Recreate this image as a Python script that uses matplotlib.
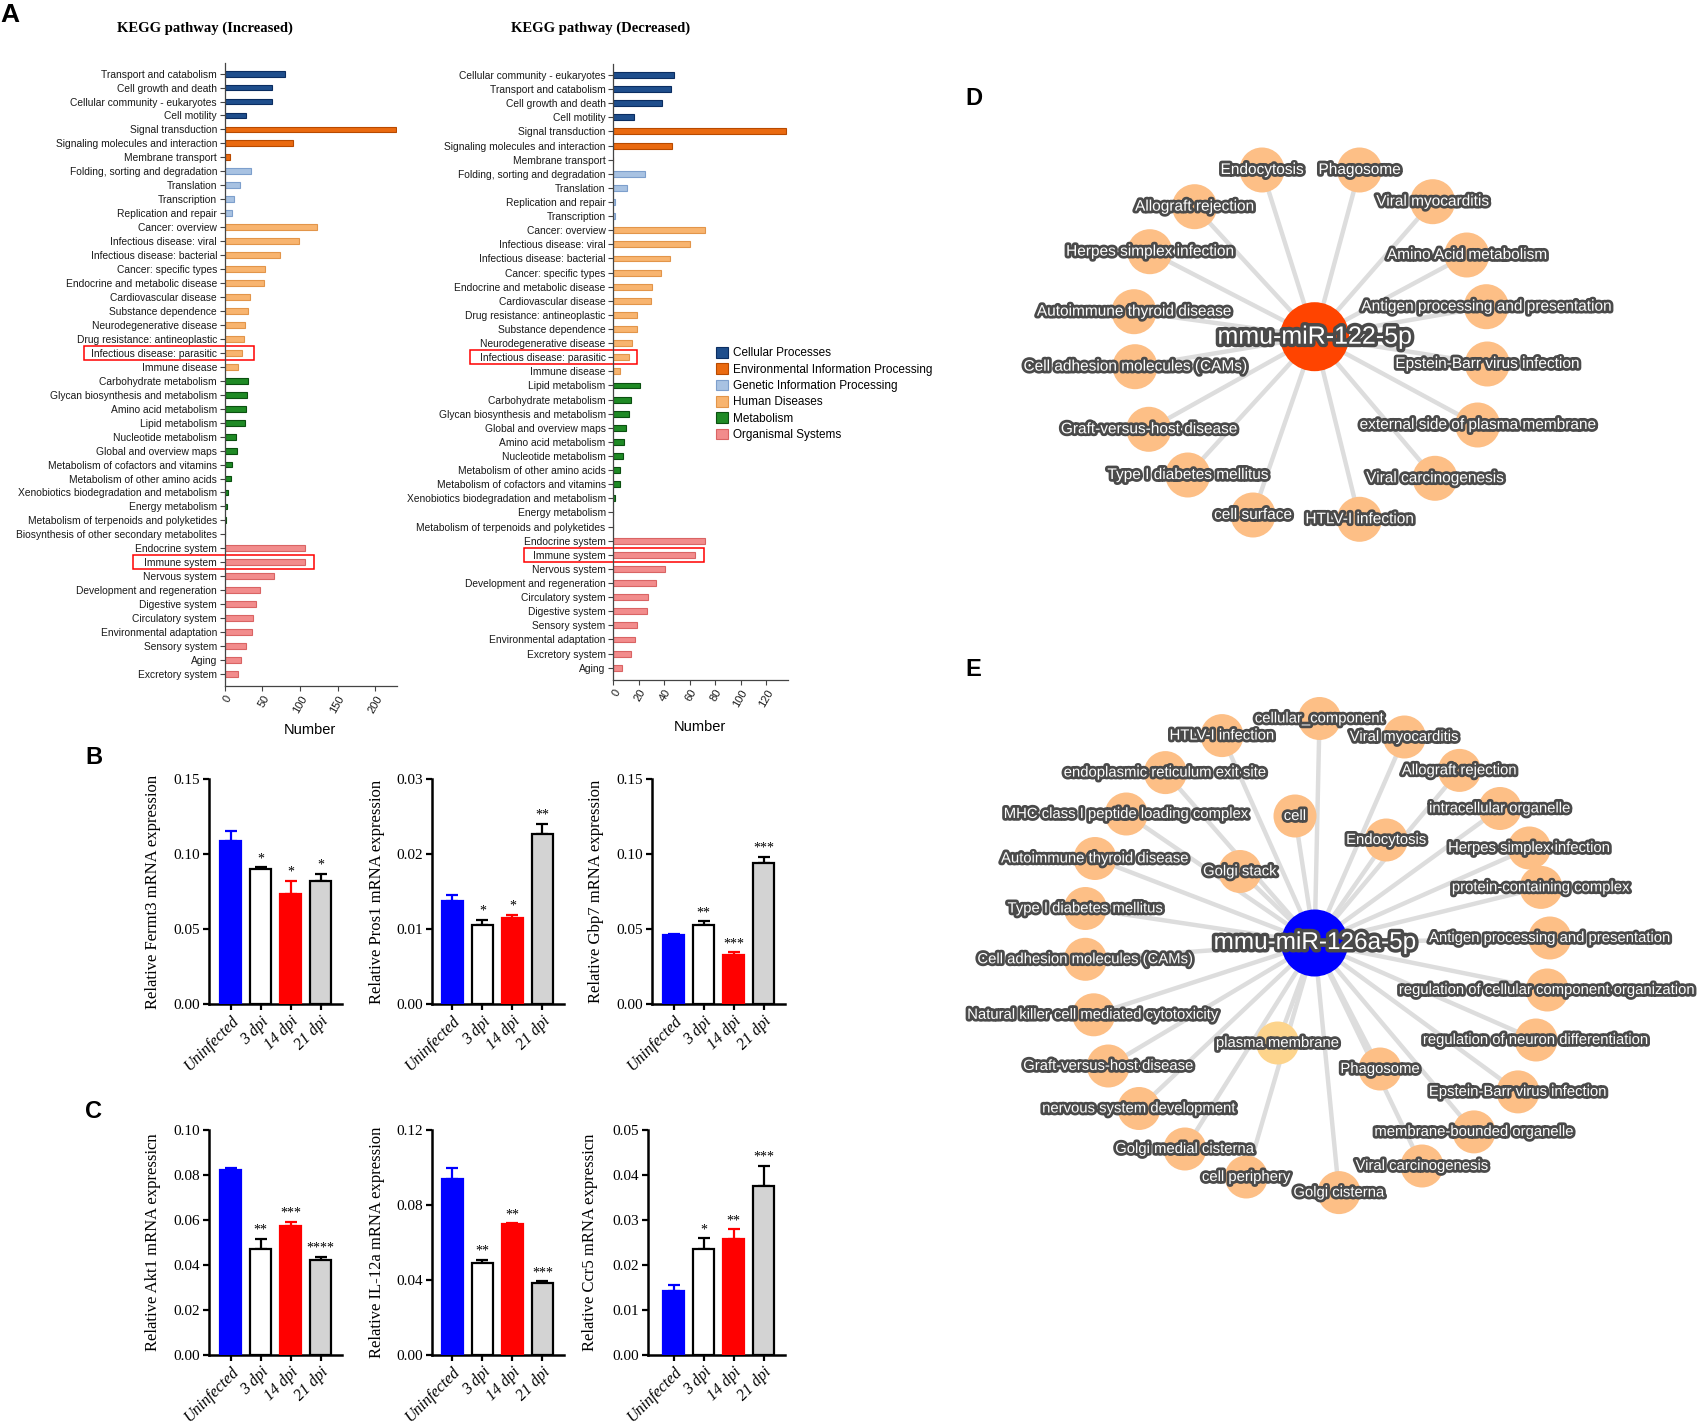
import matplotlib
matplotlib.use("Agg")
import matplotlib.pyplot as plt
import matplotlib.patheffects as pe
import matplotlib.transforms as mtransforms
from matplotlib.patches import Rectangle, Circle, Patch

# ---------------------------------------------------------------- data
inc_labels = [
    "Transport and catabolism", "Cell growth and death", "Cellular community - eukaryotes", "Cell motility",
    "Signal transduction", "Signaling molecules and interaction", "Membrane transport",
    "Folding, sorting and degradation", "Translation", "Transcription", "Replication and repair",
    "Cancer: overview", "Infectious disease: viral", "Infectious disease: bacterial", "Cancer: specific types",
    "Endocrine and metabolic disease", "Cardiovascular disease", "Substance dependence",
    "Neurodegenerative disease", "Drug resistance: antineoplastic", "Infectious disease: parasitic",
    "Immune disease",
    "Carbohydrate metabolism", "Glycan biosynthesis and metabolism", "Amino acid metabolism",
    "Lipid metabolism", "Nucleotide metabolism", "Global and overview maps",
    "Metabolism of cofactors and vitamins", "Metabolism of other amino acids",
    "Xenobiotics biodegradation and metabolism", "Energy metabolism",
    "Metabolism of terpenoids and polyketides", "Biosynthesis of other secondary metabolites",
    "Endocrine system", "Immune system", "Nervous system", "Development and regeneration",
    "Digestive system", "Circulatory system", "Environmental adaptation", "Sensory system",
    "Aging", "Excretory system"]
inc_values = [80, 63, 63, 28, 227, 91, 7, 35, 20, 12, 10,
              122, 98, 73, 54, 52, 33, 31, 27, 25, 23, 18,
              31, 29, 28, 27, 15, 16, 10, 9, 4.5, 3, 2, 0,
              106, 106, 66, 47, 41, 38, 36, 28, 22, 18]
inc_group_sizes = [4, 3, 4, 11, 12, 10]

dec_labels = [
    "Cellular community - eukaryotes", "Transport and catabolism", "Cell growth and death", "Cell motility",
    "Signal transduction", "Signaling molecules and interaction", "Membrane transport",
    "Folding, sorting and degradation", "Translation", "Replication and repair", "Transcription",
    "Cancer: overview", "Infectious disease: viral", "Infectious disease: bacterial", "Cancer: specific types",
    "Endocrine and metabolic disease", "Cardiovascular disease", "Drug resistance: antineoplastic",
    "Substance dependence", "Neurodegenerative disease", "Infectious disease: parasitic", "Immune disease",
    "Lipid metabolism", "Carbohydrate metabolism", "Glycan biosynthesis and metabolism",
    "Global and overview maps", "Amino acid metabolism", "Nucleotide metabolism",
    "Metabolism of other amino acids", "Metabolism of cofactors and vitamins",
    "Xenobiotics biodegradation and metabolism", "Energy metabolism",
    "Metabolism of terpenoids and polyketides",
    "Endocrine system", "Immune system", "Nervous system", "Development and regeneration",
    "Circulatory system", "Digestive system", "Sensory system", "Environmental adaptation",
    "Excretory system", "Aging"]
dec_values = [48, 45, 38, 16, 136, 46.5, 0, 24.6, 10.5, 1.5, 1.5,
              72, 60, 44.4, 37.6, 30.6, 29.5, 18.8, 18.8, 14.6, 12.5, 5,
              20.6, 13.6, 12.5, 9.7, 8.6, 7.8, 5, 5, 1.6, 0, 0,
              72, 64, 40.5, 33.5, 27.5, 26.7, 18.8, 16.7, 13.6, 6.5]
dec_group_sizes = [4, 3, 4, 11, 11, 10]

kegg_classes = ["Cellular Processes", "Environmental Information Processing",
                "Genetic Information Processing", "Human Diseases", "Metabolism", "Organismal Systems"]
kegg_face = ["#1f4e8c", "#ea6a10", "#a8c2e2", "#f8b46f", "#1f8a25", "#f28c8c"]
kegg_edge = ["#0b2d61", "#b84a00", "#7d9fcc", "#e2954a", "#0b4f10", "#d96464"]

groups = ["Uninfected", "3 dpi", "14 dpi", "21 dpi"]
bar_face = ["#0000ff", "white", "#ff0000", "#d3d3d3"]
bar_edge = ["#0000ff", "black", "#ff0000", "black"]

fermt3_mean = [0.1089, 0.0900, 0.0736, 0.0824]
fermt3_err = [0.0067, 0.0013, 0.0087, 0.0045]
fermt3_sig = ["", "*", "*", "*"]
pros1_mean = [0.0138, 0.0106, 0.0115, 0.0227]
pros1_err = [0.0008, 0.0007, 0.0004, 0.0014]
pros1_sig = ["", "*", "*", "**"]
gbp7_mean = [0.0464, 0.0531, 0.0328, 0.0944]
gbp7_err = [0.0007, 0.0023, 0.0018, 0.0038]
gbp7_sig = ["", "**", "***", "***"]
akt1_mean = [0.0821, 0.0471, 0.0575, 0.0422]
akt1_err = [0.0012, 0.0045, 0.0016, 0.0014]
akt1_sig = ["", "**", "***", "****"]
il12a_mean = [0.0940, 0.0492, 0.0697, 0.0386]
il12a_err = [0.0056, 0.0015, 0.0005, 0.0007]
il12a_sig = ["", "**", "**", "***"]
ccr5_mean = [0.0142, 0.0235, 0.0257, 0.0376]
ccr5_err = [0.0013, 0.0024, 0.0022, 0.0045]
ccr5_sig = ["", "*", "**", "***"]

d_hub = "mmu-miR-122-5p"
d_labels = ["Endocytosis", "Phagosome", "Viral myocarditis", "Allograft rejection",
            "Herpes simplex infection", "Amino Acid metabolism", "Antigen processing and presentation",
            "Autoimmune thyroid disease", "Cell adhesion molecules (CAMs)", "Epstein-Barr virus infection",
            "Graft-versus-host disease", "external side of plasma membrane", "Type I diabetes mellitus",
            "Viral carcinogenesis", "cell surface", "HTLV-I infection"]
d_dx = [-52.6, 44.9, 118.1, -120.0, -164.8, 152.2, 171.7, -180.6, -179.6, 172.7,
        -165.8, 163.0, -126.8, 120.4, -61.6, 44.9]
d_dy = [-166.7, -166.7, -135.0, -130.0, -85.0, -81.7, -30.0, -25.0, 30.0, 27.3,
        92.6, 88.3, 138.3, 141.6, 178.3, 182.6]

e_hub = "mmu-miR-126a-5p"
e_labels = ["cellular_component", "HTLV-I infection", "Viral myocarditis", "endoplasmic reticulum exit site",
            "Allograft rejection", "MHC class I peptide loading complex", "cell", "intracellular organelle",
            "Endocytosis", "Herpes simplex infection", "Autoimmune thyroid disease", "Golgi stack",
            "protein-containing complex", "Type I diabetes mellitus", "Antigen processing and presentation",
            "Cell adhesion molecules (CAMs)", "regulation of cellular component organization",
            "Natural killer cell mediated cytotoxicity", "plasma membrane",
            "regulation of neuron differentiation", "Phagosome", "Graft-versus-host disease",
            "Epstein-Barr virus infection", "nervous system development", "membrane-bounded organelle",
            "Golgi medial cisterna", "Viral carcinogenesis", "cell periphery", "Golgi cisterna"]
e_dx = [4.9, -92.6, 89.8, -149.2, 144.9, -188.3, -19.6, 185.4, 71.7, 214.7, -219.6, -74.6,
        226.4, -229.2, 235.2, -229.2, 232.7, -220.9, -37.0, 221.4, 65.4, -206.3, 203.4,
        -175.6, 159.4, -129.7, 107.4, -68.3, 24.4]
e_dy = [-224.5, -207.4, -206.0, -170.4, -172.6, -129.0, -127.0, -134.5, -103.0, -95.0, -84.5,
        -71.5, -55.6, -34.5, -5.0, 16.3, 47.0, 71.8, 100.0, 97.0, 126.0, 123.0, 148.9,
        165.5, 188.9, 206.0, 223.0, 234.0, 249.6]

# ---------------------------------------------------------------- figure
W, H = 1701, 1425
fig = plt.figure(figsize=(W / 100, H / 100), dpi=100)
SANS = "Liberation Sans"
SERIF = "Liberation Serif"


def px_axes(x0, y0, x1, y1):
    return fig.add_axes([x0 / W, 1 - y1 / H, (x1 - x0) / W, (y1 - y0) / H])


def fig_text(x, y, s, **kw):
    return fig.text(x / W, 1 - y / H, s, **kw)


# ---------------------------------------------------------------- panel A
def kegg(ax, labels, values, sizes, xmax, xticks, highlights, top_pad, bot_pad):
    n = len(labels)
    cls = []
    for k, s in enumerate(sizes):
        cls += [k] * s
    ys = list(range(n))
    ax.barh(ys, values, height=0.42,
            color=[kegg_face[c] for c in cls], edgecolor=[kegg_edge[c] for c in cls], linewidth=0.8)
    ax.set_ylim(n - 1 + bot_pad, -top_pad)
    ax.set_xlim(0, xmax)
    ax.set_yticks(ys)
    ax.set_yticklabels(labels, fontsize=7.4, family=SANS, color="#1a1a1a")
    ax.set_xticks(xticks)
    ax.set_xticklabels([str(t) for t in xticks], fontsize=8, family=SANS, color="#1a1a1a",
                       rotation=60, ha="right", rotation_mode="anchor")
    for sp in ["top", "right"]:
        ax.spines[sp].set_visible(False)
    for sp in ["left", "bottom"]:
        ax.spines[sp].set_color("#444444")
        ax.spines[sp].set_linewidth(0.9)
    ax.tick_params(axis="both", length=3.5, width=0.8, color="#444444", pad=2)
    tr = mtransforms.blended_transform_factory(ax.transAxes, ax.transData)
    for lab, x0, x1 in highlights:
        i = labels.index(lab)
        ax.add_patch(Rectangle((x0, i - 0.5), x1 - x0, 1.0, transform=tr, fill=False,
                               edgecolor="red", linewidth=1.1, clip_on=False))


axA1 = px_axes(224.7, 62.7, 396.6, 686)
kegg(axA1, inc_labels, inc_values, inc_group_sizes, 228, [0, 50, 100, 150, 200],
     [("Infectious disease: parasitic", -0.818, 0.168), ("Immune system", -0.533, 0.517)], 0.78, 0.86)
axA2 = px_axes(613.3, 64, 787.7, 680)
kegg(axA2, dec_labels, dec_values, dec_group_sizes, 137, [0, 20, 40, 60, 80, 100, 120],
     [("Infectious disease: parasitic", -0.822, 0.138), ("Immune system", -0.510, 0.518)], 0.78, 0.87)

fig_text(205, 28, "KEGG pathway (Increased)", family=SERIF, fontweight="bold", fontsize=10.5,
         ha="center", va="center")
fig_text(601, 28, "KEGG pathway (Decreased)", family=SERIF, fontweight="bold", fontsize=10.5,
         ha="center", va="center")
fig_text(310, 730, "Number", family=SANS, fontsize=10.5, ha="center", va="center")
fig_text(700, 727, "Number", family=SANS, fontsize=10.5, ha="center", va="center")

handles = [Patch(facecolor=f, edgecolor=e, linewidth=0.8, label=l)
           for f, e, l in zip(kegg_face, kegg_edge, kegg_classes)]
fig.legend(handles=handles, loc="upper left", bbox_to_anchor=(716 / W, 1 - 347 / H),
           frameon=False, prop={"family": SANS, "size": 8.5}, handlelength=1.0, handleheight=1.0,
           handletextpad=0.4, labelspacing=0.34, borderpad=0, borderaxespad=0)

# ---------------------------------------------------------------- panels B, C
def bar_panel(ax, mean, err, sig, ymax, yticks, ylabel, xl):
    xs = list(range(len(groups)))
    for i in xs:
        ax.errorbar(i, mean[i], yerr=[[0], [err[i]]], fmt="none", ecolor=bar_edge[i],
                    elinewidth=1.6, capsize=4, capthick=1.6, zorder=2)
        ax.bar(i, mean[i], width=0.68, color=bar_face[i], edgecolor=bar_edge[i],
               linewidth=1.6, zorder=3)
        if sig[i]:
            ax.annotate(sig[i], xy=(i, mean[i] + err[i]), xytext=(0, 1.5), textcoords="offset points",
                        ha="center", va="bottom", fontsize=10, family=SERIF)
    ax.set_ylim(0, ymax)
    ax.set_xlim(xl, 3.72)
    ax.set_yticks(yticks)
    ax.set_yticklabels(["%.2f" % t for t in yticks], family=SERIF, fontsize=11)
    ax.set_xticks(xs)
    ax.set_xticklabels(groups, family=SERIF, style="italic", fontsize=11.5, rotation=45,
                       ha="right", rotation_mode="anchor")
    for sp in ["top", "right"]:
        ax.spines[sp].set_visible(False)
    for sp in ["left", "bottom"]:
        ax.spines[sp].set_linewidth(1.8)
    ax.tick_params(axis="both", direction="out", length=4.5, width=1.6, pad=2)
    ax.text(-0.42, 0.5, ylabel, transform=ax.transAxes, rotation=90, ha="center", va="center",
            family=SERIF, fontsize=12)


b_lefts = [209, 432, 652]
c_lefts = [209, 432, 648]
b_sets = [(fermt3_mean, fermt3_err, fermt3_sig, 0.15, [0, 0.05, 0.10, 0.15],
           "Relative Fermt3 mRNA expression", -0.72),
          (pros1_mean, pros1_err, pros1_sig, 0.03, [0, 0.01, 0.02, 0.03],
           "Relative Pros1 mRNA expression", -0.68),
          (gbp7_mean, gbp7_err, gbp7_sig, 0.15, [0, 0.05, 0.10, 0.15],
           "Relative Gbp7 mRNA expression", -0.72)]
c_sets = [(akt1_mean, akt1_err, akt1_sig, 0.10, [0, 0.02, 0.04, 0.06, 0.08, 0.10],
           "Relative Akt1 mRNA expressicn", -0.72),
          (il12a_mean, il12a_err, il12a_sig, 0.12, [0, 0.04, 0.08, 0.12],
           "Relative IL-12a mRNA expression", -0.68),
          (ccr5_mean, ccr5_err, ccr5_sig, 0.05, [0, 0.01, 0.02, 0.03, 0.04, 0.05],
           "Relative Ccr5 mRNA expressicn", -0.85)]
for left, s in zip(b_lefts, b_sets):
    ax = px_axes(left, 779.3, left + 30 * (3.72 - s[6]), 1004.3)
    bar_panel(ax, *s)
for left, s in zip(c_lefts, c_sets):
    ax = px_axes(left, 1130, left + 30 * (3.72 - s[6]), 1355)
    bar_panel(ax, *s)

# ---------------------------------------------------------------- panels D, E
node_col = "#fdbf86"


def network(box, hub_xy, hub, labels, dx, dy, hub_color, node_colors, r_node, r_hub, fs, hub_fs):
    x0, y0, x1, y1 = box
    ax = px_axes(x0, y0, x1, y1)
    hx, hy = hub_xy
    ax.set_xlim(x0 - hx, x1 - hx)
    ax.set_ylim(y1 - hy, y0 - hy)
    ax.axis("off")
    for x, y in zip(dx, dy):
        ax.plot([0, x], [0, y], color="#dddddd", linewidth=3.2, solid_capstyle="butt", zorder=1)
    for x, y, c in zip(dx, dy, node_colors):
        ax.add_patch(Circle((x, y), r_node, facecolor=c, edgecolor="none", zorder=2))
    ax.add_patch(Circle((0, 0), r_hub, facecolor=hub_color, edgecolor="none", zorder=3))
    eff = [pe.withStroke(linewidth=4, foreground="#4a4a4a")]
    for x, y, l in zip(dx, dy, labels):
        ax.text(x, y, l, ha="center", va="center", fontsize=fs, family=SANS, color="white",
                path_effects=eff, zorder=5)
    ax.text(0, 0, hub, ha="center", va="center", fontsize=hub_fs, family=SANS, color="white",
            path_effects=[pe.withStroke(linewidth=5, foreground="#4a4a4a")], zorder=6)


network((940, 60, 1701, 580), (1314.6, 336.7), d_hub, d_labels, d_dx, d_dy, "#ff4400",
        [node_col] * len(d_labels), 22.5, 34.5, 11.1, 18)
e_cols = [("#fdd48c" if l == "plasma membrane" else node_col) for l in e_labels]
network((940, 640, 1701, 1230), (1314.6, 943), e_hub, e_labels, e_dx, e_dy, "#0000ff",
        e_cols, 21.5, 33.5, 10.7, 17.5)

# ---------------------------------------------------------------- panel letters
for x, y, s, f in [(10, 15, "A", 19), (93.6, 758, "B", 17), (93.6, 1111, "C", 17),
                   (974, 98.5, "D", 17), (973, 670, "E", 17)]:
    fig_text(x, y, s, family=SANS, fontweight="bold", fontsize=f, ha="center", va="center")

fig.savefig("out.png", dpi=100, facecolor="white")
